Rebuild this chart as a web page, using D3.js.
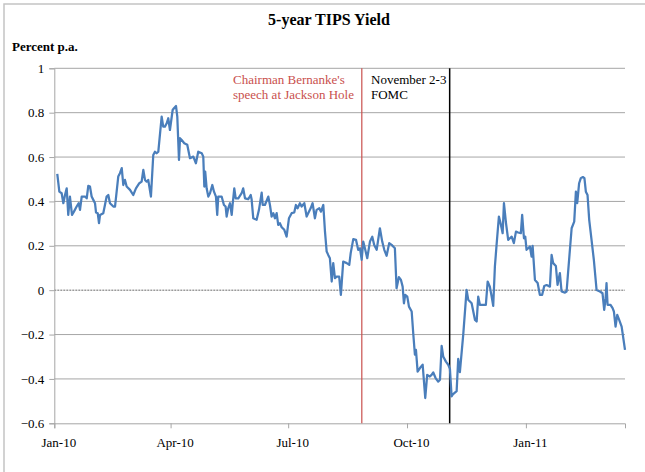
<!DOCTYPE html>
<html><head><meta charset="utf-8">
<script src="https://cdn.jsdelivr.net/npm/d3@7"></script>
<style>html,body{margin:0;padding:0;background:#fff;}svg{display:block;}</style>
</head><body>
<svg id="c" width="645" height="472"></svg>
<script>
// Day offsets since 1 Jan 2010 and 5-year TIPS yield (percent p.a.)
const days = [2.3,3.9,5.7,7.0,8.3,9.6,10.8,12.1,13.7,15.2,17.3,18.9,19.9,21.2,23.8,25.1,26.3,27.6,28.9,30.2,31.5,32.3,33.6,34.6,35.4,37.9,39.2,40.5,41.8,43.1,45.7,47.0,49.5,50.8,52.2,53.4,54.7,56.0,58.6,61.1,63.2,65.8,67.6,68.9,70.2,71.5,72.7,74.8,76.6,77.9,79.2,80.5,83.1,84.3,85.6,87.0,88.2,89.5,91.6,92.6,94.2,95.2,96.5,97.3,98.6,100.6,102.9,105.0,107.6,109.6,111.4,114.1,115.3,116.1,116.8,117.9,119.2,120.5,122.3,123.6,125.1,126.1,126.9,129.5,131.3,132.6,133.4,134.6,136.0,137.3,138.0,139.3,140.4,142.4,145.0,146.2,147.6,150.1,152.0,152.7,154.0,156.6,158.4,160.5,161.3,163.0,165.6,166.9,168.2,169.5,170.8,172.1,173.3,174.6,176.0,178.0,179.8,181.6,183.7,185.7,187.0,188.3,190.1,191.4,193.5,195.3,196.5,198.4,199.9,201.7,203.0,205.1,206.4,208.2,209.5,210.8,212.0,213.3,214.7,215.9,217.2,218.5,220.5,221.8,223.6,226.3,228.3,229.4,231.4,233.5,235.2,236.6,237.9,239.1,240.4,242.2,244.3,246.1,247.6,249.5,252.0,253.8,255.4,257.2,259.2,261.1,262.3,263.6,264.9,266.7,268.3,269.6,270.6,271.6,273.2,274.5,276.6,277.8,279.1,279.9,281.2,283.0,285.1,287.1,288.6,290.7,292.0,293.3,295.1,297.1,298.5,299.8,301.0,303.1,304.9,306.2,307.5,308.7,311.4,312.6,313.9,316.5,319.1,320.4,321.7,323.0,325.6,326.9,328.1,329.4,332.0,334.0,335.4,337.1,338.5,339.7,341.0,342.3,344.1,345.4,347.0,348.0,349.6,351.3,352.6,354.0,355.7,357.3,359.0,361.1,362.1,363.5,364.5,365.5,366.8,368.1,369.4,370.2,372.0,374.1,375.8,377.6,379.2,381.0,383.6,384.9,386.1,388.2,389.5,391.3,392.6,395.2,396.5,397.7,400.4,402.4,403.7,404.7,406.2,407.5,409.1,410.3,411.4,412.7,414.0,415.8,417.6,419.7,422.3,424.3,425.6,426.7,427.4,428.2,430.5,432.1,433.1,434.4,435.7,437.2,439.1,441.7];
const yields = [0.524,0.444,0.437,0.392,0.429,0.459,0.339,0.422,0.339,0.354,0.377,0.392,0.362,0.422,0.422,0.414,0.470,0.467,0.422,0.407,0.392,0.350,0.347,0.302,0.339,0.347,0.384,0.422,0.429,0.392,0.377,0.377,0.512,0.527,0.550,0.474,0.497,0.467,0.452,0.429,0.459,0.482,0.489,0.542,0.497,0.489,0.497,0.422,0.609,0.624,0.617,0.624,0.782,0.737,0.737,0.752,0.775,0.722,0.812,0.820,0.830,0.782,0.587,0.685,0.677,0.662,0.655,0.595,0.602,0.572,0.624,0.617,0.602,0.467,0.534,0.459,0.422,0.437,0.474,0.444,0.422,0.339,0.422,0.422,0.384,0.377,0.332,0.369,0.392,0.339,0.384,0.459,0.414,0.414,0.437,0.459,0.414,0.410,0.429,0.410,0.324,0.317,0.362,0.440,0.384,0.384,0.422,0.384,0.332,0.347,0.324,0.347,0.294,0.302,0.284,0.272,0.241,0.324,0.347,0.350,0.384,0.369,0.392,0.377,0.392,0.332,0.347,0.369,0.392,0.324,0.362,0.369,0.354,0.384,0.264,0.174,0.159,0.144,0.039,0.122,0.054,0.061,0.061,-0.021,0.129,0.122,0.114,0.167,0.230,0.227,0.182,0.189,0.137,0.219,0.189,0.144,0.219,0.241,0.204,0.182,0.279,0.219,0.182,0.155,0.212,0.204,0.197,0.189,0.009,0.059,0.046,0.016,-0.059,-0.021,-0.029,-0.074,-0.096,-0.194,-0.291,-0.269,-0.367,-0.351,-0.336,-0.486,-0.382,-0.389,-0.382,-0.371,-0.396,-0.412,-0.404,-0.251,-0.299,-0.322,-0.336,-0.355,-0.479,-0.468,-0.455,-0.310,-0.369,-0.200,0.001,-0.044,-0.051,-0.059,-0.134,-0.141,-0.029,-0.066,-0.066,-0.066,0.039,0.016,-0.029,-0.071,0.106,0.204,0.332,0.302,0.257,0.392,0.302,0.227,0.234,0.241,0.212,0.264,0.260,0.257,0.339,0.234,0.241,0.182,0.189,0.197,0.151,0.200,0.046,0.032,-0.021,-0.021,0.019,0.023,0.016,0.159,0.122,0.109,0.024,0.077,-0.006,-0.011,-0.006,0.084,0.279,0.309,0.444,0.392,0.482,0.505,0.510,0.505,0.444,0.429,0.317,0.227,0.136,0.001,-0.006,-0.014,-0.089,-0.036,0.032,-0.066,-0.066,-0.081,-0.096,-0.164,-0.111,-0.134,-0.164,-0.269];
const yTicks = [1,0.8,0.6,0.4,0.2,0,-0.2,-0.4,-0.6];
const xTickLabels = ["Jan-10","Apr-10","Jul-10","Oct-10","Jan-11"];
const eventDates = ["2010-08-27","2010-11-03"];
const eventLabels = [["Chairman Bernanke's","speech at Jackson Hole"],["November 2-3","FOMC"]];
const titleText = "5-year TIPS Yield";
const yAxisTitle = "Percent p.a.";

const start = new Date(2010,0,1);
const dayMs = 864e5;
const toDate = d => new Date(start.getTime() + d*dayMs);
const data = days.map((d,i)=>({date:toDate(d), v:yields[i]}));

const svg = d3.select("#c");
const serif = "'Liberation Serif','Times New Roman',serif";
const L=54.3, R=625, T=68.3, B=423.3;

const x = d3.scaleTime().domain([start, toDate(441.7)]).range([L,R]);
const y = d3.scaleLinear().domain([-0.6,1]).range([B,T]);

// outer frame
svg.append("rect").attr("x",4).attr("y",4).attr("width",700).attr("height",500)
  .attr("fill","none").attr("stroke","#c4c4c4").attr("stroke-width",1.5);

// title
svg.append("text").attr("x",329).attr("y",25).attr("text-anchor","middle")
  .attr("font-family",serif).attr("font-weight","bold").attr("font-size",16).text(titleText);
svg.append("text").attr("x",12).attr("y",51)
  .attr("font-family",serif).attr("font-weight","bold").attr("font-size",13).text(yAxisTitle);

// gridlines
svg.append("g").selectAll("line").data(yTicks.filter(t=>t!==0 && t!==-0.6)).join("line")
  .attr("x1",L).attr("x2",R).attr("y1",d=>y(d)).attr("y2",d=>y(d))
  .attr("stroke","#a6a6a6").attr("stroke-width",1);
svg.append("line").attr("x1",L).attr("x2",R).attr("y1",y(0)).attr("y2",y(0))
  .attr("stroke","#444").attr("stroke-width",0.8).attr("stroke-dasharray","2,1");

// y axis
const yAxis = d3.axisLeft(y).tickValues(yTicks).tickSize(5).tickPadding(5)
  .tickFormat(d=>d3.format("")(+d.toFixed(1)));
const gy = svg.append("g").attr("transform",`translate(${L},0)`).call(yAxis);
gy.select(".domain").attr("stroke","#a6a6a6");
gy.selectAll(".tick line").attr("stroke","#a6a6a6");
gy.selectAll("text").attr("font-family",serif).attr("font-size",13).attr("fill","#000");

// x axis
const xt = d3.timeMonth.every(3).range(start, toDate(441.7));
const xAxis = d3.axisBottom(x).tickValues(xt).tickSize(5).tickPadding(9)
  .tickFormat((d,i)=>xTickLabels[i]);
const gx = svg.append("g").attr("transform",`translate(0,${B})`).call(xAxis);
gx.select(".domain").attr("stroke","#a6a6a6");
gx.selectAll(".tick line").attr("stroke","#a6a6a6");
gx.selectAll("text").attr("font-family",serif).attr("font-size",13).attr("fill","#000").attr("dx",4);

// event lines
const parse = d3.timeParse("%Y-%m-%d");
const evColors = ["#c9504d","#000"];
const evTextColors = ["#c9504d","#000"];
eventDates.forEach((ds,i)=>{
  const xx = x(parse(ds));
  svg.append("line").attr("x1",xx).attr("x2",xx).attr("y1",T).attr("y2",B)
    .attr("stroke",evColors[i]).attr("stroke-width",i?1.5:1.2);
});
// event labels
const labX = [233, 371];
eventLabels.forEach((lines,i)=>{
  lines.forEach((t,j)=>{
    svg.append("text").attr("x",labX[i]).attr("y",84+j*15)
      .attr("font-family",serif).attr("font-size",13).attr("fill",evTextColors[i]).text(t);
  });
});

// series line
svg.append("path").datum(data)
  .attr("fill","none").attr("stroke","#4a7ebb").attr("stroke-width",2.25)
  .attr("stroke-linejoin","round")
  .attr("d", d3.line().x(d=>x(d.date)).y(d=>y(d.v)));
</script>
</body></html>
